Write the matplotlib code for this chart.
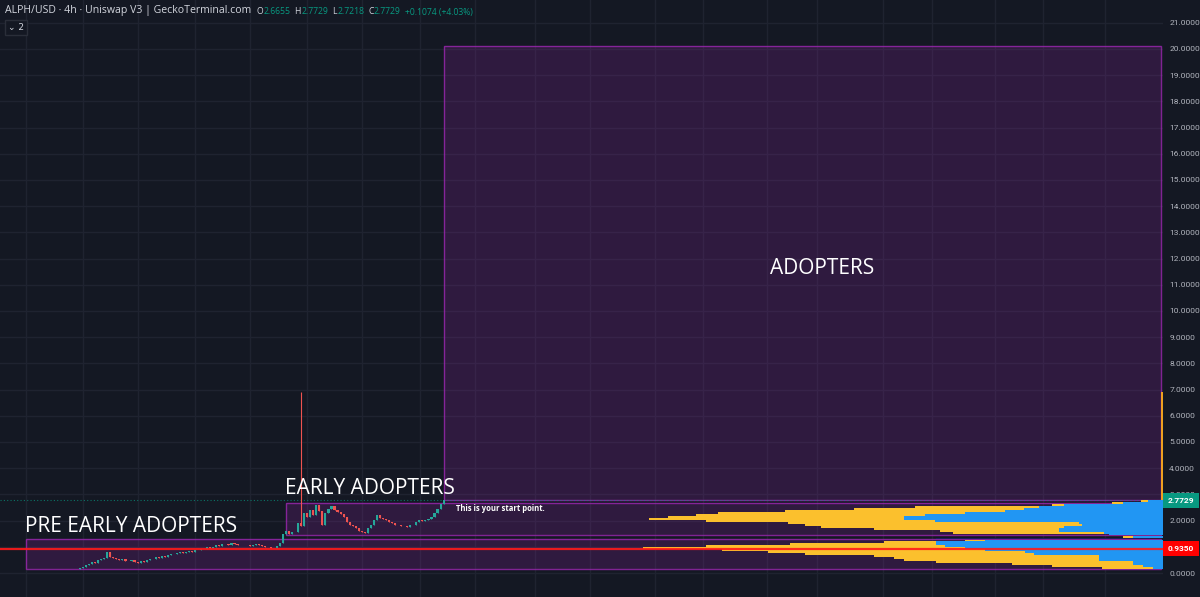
import numpy as np
import matplotlib
matplotlib.use("Agg")
import matplotlib.pyplot as plt
from matplotlib.patches import Rectangle

# ---------------- data ----------------
closes = [0.18, 0.22, 0.30, 0.35, 0.42, 0.40, 0.48, 0.52, 0.58, 0.80,
          0.62, 0.58, 0.55, 0.50, 0.52, 0.46, 0.44, 0.48, 0.42, 0.40, 0.45, 0.43, 0.50,
          0.52, 0.55, 0.60, 0.58, 0.65, 0.62, 0.70, 0.74, 0.72, 0.78, 0.80, 0.76, 0.82, 0.85, 0.80, 0.86, 0.88,
          0.90, 0.93, 0.98, 0.95, 1.00, 1.05, 1.02, 1.10, 1.12, 1.08, 1.14, 1.10, 1.06,
          1.08, 1.05, 1.07, 1.04, 1.06, 1.10, 1.05, 1.02, 1.00, 0.98, 0.96, 0.94, 1.02, 1.15,
          1.50, 1.62, 1.48, 1.55, 1.58, 1.90,
          1.80, 2.30, 2.15, 2.40, 2.20, 2.58, 2.35, 1.85, 2.28, 2.45, 2.55, 2.40, 2.34, 2.25, 2.15,
          1.95, 1.85, 1.78, 1.70, 1.62, 1.55, 1.52, 1.70,
          1.85, 2.02, 2.20, 2.10, 2.05, 2.02, 1.96, 1.92, 1.85, 1.82,
          1.80, 1.78, 1.76, 1.82, 1.85, 1.95, 2.02, 1.98, 2.02, 2.05,
          2.15, 2.30, 2.45, 2.62, 2.7729]
first_open = 0.16
spike_index = 73
spike_high = 6.92

# price boxes (bottom, top)
pre_early_box = (0.15, 1.30)
early_box = (1.45, 2.68)
adopters_box = (2.80, 20.10)

last_price = 2.7729
poc_price = 0.9350
y_ticks = [0, 2, 3, 4, 5, 6, 7, 8, 9, 10, 11, 12, 13, 14, 15, 16, 17, 18, 19, 20, 21]
grid_levels = list(range(0, 22))

# visible range volume profile rows: price, total volume, up volume
vp_centers = [0.19, 0.27, 0.34, 0.42, 0.49, 0.57, 0.64, 0.72, 0.79, 0.87,
              0.94, 1.02, 1.09, 1.17, 1.24, 1.32, 1.39, 1.47, 1.54, 1.62,
              1.69, 1.77, 1.84, 1.92, 1.99, 2.07, 2.14, 2.22, 2.29, 2.37,
              2.44, 2.52, 2.59, 2.67, 2.74]
vp_total = [62, 112, 152, 229, 262, 272, 292, 362, 399, 445,
            525, 462, 377, 282, 200, 216, 40, 55, 212, 225,
            292, 345, 362, 379, 462, 519, 500, 472, 449, 382,
            312, 250, 112, 52, 22]
vp_up = [10, 20, 30, 30, 65, 65, 65, 130, 139, 180,
         200, 220, 229, 229, 180, 216, 30, 55, 60, 105,
         105, 100, 82, 85, 230, 262, 262, 240, 200, 160,
         140, 125, 100, 40, 15]
vp_top_wick = (2.80, 6.92)

header_title = "ALPH/USD · 4h · Uniswap V3 | GeckoTerminal.com"
ohlc = [("O", "2.6655"), ("H", "2.7729"), ("L", "2.7218"), ("C", "2.7729")]
change_text = "+0.1074 (+4.03%)"

# ---------------- style ----------------
BG = "#141823"
GRID = "#1f2330"
PURPLE = "#9c27b0"
UP = "#26a69a"
DOWN = "#ef5350"
GREEN = "#089981"
TXT = "#d1d4dc"
AX_TXT = "#b2b5be"
VP_BLUE = "#2196f3"
VP_YELLOW = "#fbc02d"

W, H = 1200, 597
fig = plt.figure(figsize=(W / 100, H / 100), dpi=100, facecolor=BG)
plot_w = 1163
ax = fig.add_axes([0, 0, plot_w / W, 1])
ax.set_facecolor(BG)

px_per_bar = 3.03
first_px = 80
x_left = -first_px / px_per_bar
x_right = (plot_w - first_px) / px_per_bar
ax.set_xlim(x_left, x_right)
y_lo, y_hi = -0.916, 21.87
ax.set_ylim(y_lo, y_hi)
unit_px = H / (y_hi - y_lo)

def px2x(px):
    return (px - first_px) / px_per_bar

# grid
for gx in [26, 83, 138, 195, 250, 307, 362, 420, 475, 535, 590, 655, 703, 767, 817,
           883, 932, 995, 1043, 1105]:
    ax.axvline(px2x(gx), color=GRID, lw=1, zorder=0)
for yt in grid_levels:
    ax.axhline(yt, color=GRID, lw=1, zorder=0)

# boxes
def draw_box(x0, y0, y1):
    ax.add_patch(Rectangle((x0, y0), x_right - 0.8 - x0, y1 - y0, facecolor=PURPLE,
                           alpha=0.2, edgecolor="none", zorder=1))
    ax.add_patch(Rectangle((x0, y0), x_right - 0.8 - x0, y1 - y0, facecolor="none",
                           edgecolor=PURPLE, alpha=0.8, lw=1, zorder=1.5))

draw_box(px2x(26), *pre_early_box)
draw_box(px2x(286), *early_box)
draw_box(px2x(444), *adopters_box)

# volume profile (anchored to right edge, width as fraction of plot width)
tr = ax.get_yaxis_transform()
vmax = max(vp_total)
max_frac = 0.447
step = 0.075
for i, (c, tot, up) in enumerate(zip(vp_centers, vp_total, vp_up)):
    tot_f = tot / vmax * max_frac
    up_f = up / vmax * max_frac
    if i == 15:
        ax.barh(c, tot_f, left=1 - tot_f - 0.011, height=step * 0.8, color="#1b1f5e",
                transform=tr, zorder=3)
        continue
    ax.barh(c, tot_f - up_f, left=1 - tot_f, height=step, color=VP_YELLOW,
            transform=tr, zorder=3, lw=0)
    ax.barh(c, up_f, left=1 - up_f, height=step, color=VP_BLUE,
            transform=tr, zorder=3, lw=0)
ax.bar(0.999, vp_top_wick[1] - vp_top_wick[0], width=0.002, bottom=vp_top_wick[0],
       color="#f0a020", transform=tr, zorder=3)

# candles
opens = [first_open] + closes[:-1]
for i, (o, c) in enumerate(zip(opens, closes)):
    col = UP if c >= o else DOWN
    hi = spike_high if i == spike_index else max(o, c)
    ax.vlines(i, min(o, c), hi, color=col, lw=0.8, zorder=4)
    ax.bar(i, max(abs(c - o), 0.012), bottom=min(o, c), width=0.7, color=col, zorder=4)

# lines
ax.axhline(poc_price, color="#ff1a1a", lw=1.6, alpha=0.9, zorder=5)
ax.axhline(last_price, color=GREEN, lw=0.8, ls=(0, (1, 2)), alpha=0.7, zorder=2)

# labels
lab_font = "Open Sans"
ax.text(px2x(822), 11.61, "ADOPTERS", color="white", fontsize=15, family=lab_font,
        ha="center", va="center", zorder=6)
ax.text(px2x(285), 3.24, "EARLY ADOPTERS", color="white", fontsize=15, family=lab_font,
        ha="left", va="center", zorder=6)
ax.text(px2x(25), 1.76, "PRE EARLY ADOPTERS", color="white", fontsize=15, family=lab_font,
        ha="left", va="center", zorder=6)
ax.text(px2x(456), 2.45, "This is your start point.", color="white", fontsize=5.5,
        family=lab_font, fontweight="bold", ha="left", va="center", zorder=6)

# right axis
ax.yaxis.tick_right()
ax.set_yticks(y_ticks)
ax.set_yticklabels([f"{v:.4f}" for v in y_ticks])
ax.tick_params(axis="y", length=0, pad=4.5, labelsize=6.0, labelcolor=AX_TXT)
for lbl in ax.get_yticklabels():
    lbl.set_family("Roboto")
ax.set_xticks([])
for s in ax.spines.values():
    s.set_visible(False)

lab_w = 36 / plot_w
lab_h = 15 / unit_px
for price, fc in [(last_price, GREEN), (poc_price, "#ff0000")]:
    ax.add_patch(Rectangle((1.0, price - lab_h / 2), lab_w, lab_h, transform=tr,
                           facecolor=fc, edgecolor="none", zorder=7, clip_on=False))
    ax.text(1.0 + lab_w / 2, price, f"{price:.4f}", transform=tr, color="white",
            fontsize=6.0, family="Roboto", fontweight="bold", ha="center", va="center",
            zorder=8, clip_on=False)

# header
t = fig.text(5 / W, 1 - 11 / H, header_title, color=TXT, fontsize=7.6, family=lab_font,
             ha="left", va="center")
fig.canvas.draw()
r = fig.canvas.get_renderer()
xpos = t.get_window_extent(r).x1 + 5
for k, v in ohlc:
    a = fig.text(xpos / W, 1 - 12 / H, k, color=TXT, fontsize=6.2, family=lab_font,
                 ha="left", va="center")
    xpos = a.get_window_extent(r).x1 + 0.5
    b = fig.text(xpos / W, 1 - 12 / H, v, color=GREEN, fontsize=6.2, family=lab_font,
                 ha="left", va="center")
    xpos = b.get_window_extent(r).x1 + 4
fig.text(xpos / W, 1 - 12 / H, change_text, color=GREEN, fontsize=6.2, family=lab_font,
         ha="left", va="center")
fig.patches.append(Rectangle((5 / W, 1 - 35 / H), 22 / W, 15 / H, transform=fig.transFigure,
                             facecolor=BG, edgecolor="#2a2e39", lw=1))
fig.text(16 / W, 1 - 27.5 / H, "⌄ 2", color=TXT, fontsize=6.5, family="DejaVu Sans",
         ha="center", va="center")

fig.savefig("out.png", dpi=100, facecolor=BG)
